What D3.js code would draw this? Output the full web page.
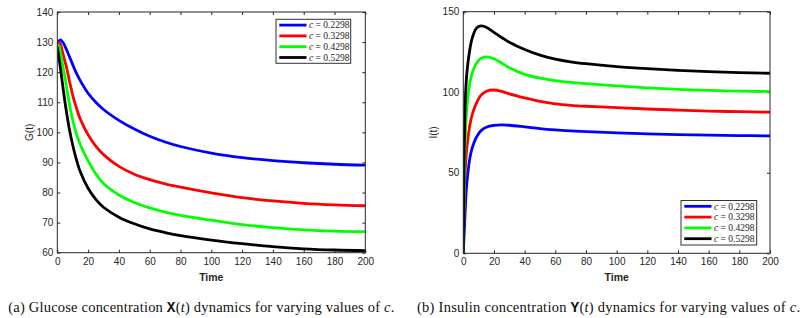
<!doctype html>
<html lang="en">
<head>
<meta charset="utf-8">
<title>glucose insulin</title>
<style>
    body { margin: 0; background: white; }
    .tick text { font-family: "Liberation Sans", Arial, sans-serif; font-size: 10px; fill: #262626; }
    .tick line { stroke: #262626; }
    .axisLabel { font-family: "Liberation Sans", Arial, sans-serif; fill: #262626; }
    .caption { font-family: "Liberation Serif", "Times New Roman", serif; font-size: 14.5px; fill: #111; }
    .legendText { font-family: "Liberation Serif", serif; font-size: 9.5px; fill: #222; }
</style>
</head>
<body>
<div id="chart"></div>
<script src="https://cdn.jsdelivr.net/npm/d3@7"></script>
<script>
// time grid shared by all curves
var time = [0, 1, 2, 3, 4, 5, 6, 8, 10, 12, 15, 20, 25, 30, 40, 50, 60, 70, 80, 100, 120, 140, 160, 180, 200];

var cValues = ["0.2298", "0.3298", "0.4298", "0.5298"];
var colors = ["#0000ff", "#ff0000", "#00ff00", "#000000"];

// glucose G(t), one array per c
var glucose1 = [129, 130.3, 130.7, 130.3, 129.6, 128.6, 127.5, 125.0, 122.5, 120.1, 117.1, 113.0, 110.0, 107.6, 104.0, 101.1, 98.7, 96.8, 95.3, 93.1, 91.6, 90.6, 89.9, 89.4, 89.1];
var glucose2 = [129, 129.7, 129.3, 127.5, 125.5, 123.5, 121.6, 116.8, 112.4, 108.8, 104.3, 99.2, 95.4, 92.6, 88.7, 86.1, 84.3, 82.9, 81.8, 79.9, 78.3, 77.2, 76.4, 75.9, 75.6];
var glucose3 = [129, 128.8, 126.5, 123.7, 121, 118.3, 115.1, 109.1, 104.1, 100.2, 95.8, 90.5, 86.2, 83.0, 79.2, 76.7, 74.9, 73.5, 72.4, 70.8, 69.3, 68.3, 67.6, 67.2, 67.0];
var glucose4 = [128.5, 125, 121.5, 117.6, 113.7, 110, 106.6, 100.6, 95.8, 91.7, 86.8, 81.4, 77.7, 75.1, 71.8, 69.6, 67.9, 66.7, 65.7, 64.2, 63.0, 62.0, 61.3, 60.9, 60.7];

// insulin I(t), one array per c
var insulin1 = [0, 21, 40, 50, 57.5, 62.5, 66, 71, 74.3, 76.5, 78.3, 79.4, 79.7, 79.5, 78.5, 77.4, 76.6, 76, 75.5, 74.8, 74.2, 73.7, 73.4, 73.1, 72.9];
var insulin2 = [0, 46, 62, 71, 78, 83, 86.7, 92, 96, 98.6, 100.6, 101.4, 100.5, 99.0, 96.5, 94.3, 92.8, 91.9, 91.3, 90.4, 89.6, 88.9, 88.3, 87.9, 87.6];
var insulin3 = [0, 62, 87, 97, 104, 109, 112.5, 117, 119.8, 121.3, 122, 120.8, 118.1, 115.2, 111.1, 108.7, 107.2, 106.1, 105.3, 103.9, 102.7, 101.8, 101.1, 100.7, 100.4];
var insulin4 = [0, 85, 108, 118, 125, 130.5, 134.2, 139, 140.8, 141.2, 140.3, 137.2, 134, 131, 126.5, 123, 120.6, 118.9, 117.7, 115.9, 114.6, 113.6, 112.8, 112.2, 111.8];

var xTicks = [0, 20, 40, 60, 80, 100, 120, 140, 160, 180, 200];
var gTicks = [60, 70, 80, 90, 100, 110, 120, 130, 140];
var iTicks = [0, 50, 100, 150];

var svg = d3.select("#chart").append("svg")
    .attr("width", 808)
    .attr("height", 318);

svg.append("rect").attr("width", 808).attr("height", 318).attr("fill", "white");

function drawPanel(opts) {
    var x = d3.scaleLinear().domain([0, 200]).range([opts.left, opts.right]);
    var y = d3.scaleLinear().domain(opts.yDomain).range([opts.bottom, opts.top]);

    var g = svg.append("g");

    g.append("g")
        .attr("transform", "translate(0," + opts.bottom + ")")
        .call(d3.axisBottom(x).tickValues(xTicks).tickSizeInner(-3).tickSizeOuter(0).tickPadding(5));
    g.append("g")
        .attr("transform", "translate(0," + opts.top + ")")
        .call(d3.axisTop(x).tickValues(xTicks).tickSizeInner(-3).tickSizeOuter(0).tickFormat(""));
    g.append("g")
        .attr("transform", "translate(" + opts.left + ",0)")
        .call(d3.axisLeft(y).tickValues(opts.yTicks).tickSizeInner(-3).tickSizeOuter(0).tickPadding(4));
    g.append("g")
        .attr("transform", "translate(" + opts.right + ",0)")
        .call(d3.axisRight(y).tickValues(opts.yTicks).tickSizeInner(-3).tickSizeOuter(0).tickFormat(""));
    g.selectAll(".domain").remove();

    var line = d3.line()
        .x(function(d) { return x(d[0]); })
        .y(function(d) { return y(d[1]); })
        .curve(d3.curveCatmullRom.alpha(0.5));

    var clipId = "clip" + opts.id;
    g.append("clipPath").attr("id", clipId)
        .append("rect")
        .attr("x", opts.left).attr("y", opts.top)
        .attr("width", opts.right - opts.left).attr("height", opts.bottom - opts.top);

    opts.series.forEach(function(vals, i) {
        g.append("path")
            .datum(time.map(function(t, k) { return [t, vals[k]]; }))
            .attr("clip-path", "url(#" + clipId + ")")
            .attr("fill", "none")
            .attr("stroke", colors[i])
            .attr("stroke-width", 2.8)
            .attr("stroke-linejoin", "round")
            .attr("d", line);
    });

    // frame
    g.append("rect")
        .attr("x", opts.left).attr("y", opts.top)
        .attr("width", opts.right - opts.left).attr("height", opts.bottom - opts.top)
        .attr("fill", "none").attr("stroke", "#262626").attr("stroke-width", 1);

    g.append("text").attr("class", "axisLabel")
        .attr("x", (opts.left + opts.right) / 2).attr("y", opts.bottom + 28)
        .attr("text-anchor", "middle")
        .style("font-size", "10.5px").style("font-weight", "bold")
        .text("Time");

    g.append("text").attr("class", "axisLabel")
        .attr("transform", "translate(" + opts.yLabelX + "," + ((opts.top + opts.bottom) / 2) + ") rotate(-90)")
        .attr("text-anchor", "middle")
        .style("font-size", "10px")
        .text(opts.yLabel);

    // legend
    var lg = g.append("g").attr("transform", "translate(" + opts.legend[0] + "," + opts.legend[1] + ")");
    lg.append("rect")
        .attr("width", opts.legend[2]).attr("height", opts.legend[3])
        .attr("fill", "white").attr("stroke", "#333").attr("stroke-width", 1);
    cValues.forEach(function(c, i) {
        var yy = 5.8 + i * 10.8;
        lg.append("line")
            .attr("x1", 3.3).attr("x2", 30.5)
            .attr("y1", yy).attr("y2", yy)
            .attr("stroke", colors[i]).attr("stroke-width", 2.8);
        var t = lg.append("text").attr("class", "legendText")
            .attr("x", 33).attr("y", yy + 3.2);
        t.append("tspan").style("font-style", "italic").text("c");
        t.append("tspan").text(" = " + c);
    });

    // caption
    var cap = svg.append("text").attr("class", "caption")
        .attr("x", opts.capX).attr("y", 311.5)
        .attr("textLength", opts.capWidth)
        .attr("lengthAdjust", "spacing");
    cap.append("tspan").text(opts.capLetter + "  " + opts.capWord + " concentration ");
    cap.append("tspan").style("font-family", "'Liberation Mono', monospace").style("font-weight", "bold").text(opts.capVar);
    cap.append("tspan").text("(");
    cap.append("tspan").style("font-style", "italic").text("t");
    cap.append("tspan").text(") dynamics for varying values of ");
    cap.append("tspan").style("font-style", "italic").text("c");
    cap.append("tspan").text(".");
}

drawPanel({
    id: "a", left: 57.3, right: 365.3, top: 12, bottom: 252.7,
    yDomain: [60, 140], yTicks: gTicks, yLabel: "G(t)", yLabelX: 33,
    series: [glucose1, glucose2, glucose3, glucose4],
    legend: [276, 19.3, 74.7, 44],
    capX: 8.3, capWidth: 386, capLetter: "(a)", capWord: "Glucose", capVar: "X"
});

drawPanel({
    id: "b", left: 463.3, right: 770, top: 11.7, bottom: 253.3,
    yDomain: [0, 150], yTicks: iTicks, yLabel: "I(t)", yLabelX: 437,
    series: [insulin1, insulin2, insulin3, insulin4],
    legend: [681, 200.5, 75.7, 44.5],
    capX: 417, capWidth: 383, capLetter: "(b)", capWord: "Insulin", capVar: "Y"
});
</script>
</body>
</html>
